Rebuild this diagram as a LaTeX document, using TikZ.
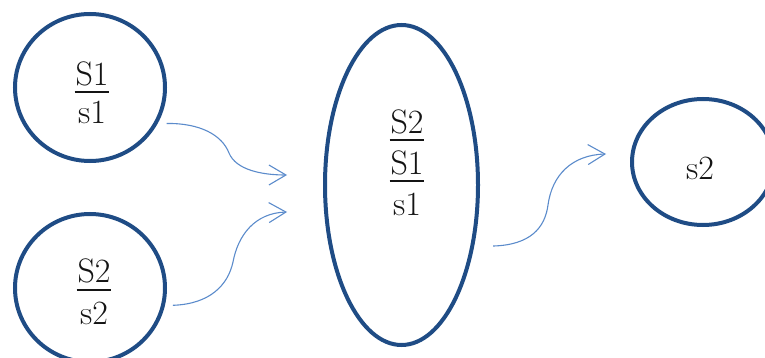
\documentclass[tikz,border=0pt]{standalone}
\usetikzlibrary{shapes.geometric,arrows.meta}
\definecolor{ringblue}{HTML}{1F4C85}
\definecolor{flowblue}{HTML}{5B8BCB}
\definecolor{inktext}{HTML}{141414}
% term with a fraction bar beneath it
\newcommand\topterm[1]{\leavevmode\setbox0\hbox{#1}\rlap{\hspace{-1pt}\rule[-8pt]{\dimexpr\wd0+2pt\relax}{2pt}}\box0}
\tikzset{
  ring/.style={ellipse, draw=ringblue, line width=4pt, inner sep=0pt},
  term/.style={align=center, inner sep=0pt, text=inktext},
  flow/.style={draw=flowblue, line width=1.1pt,
    -{Straight Barb[length=17pt,width=20pt,line width=1.1pt]}},
}
\begin{document}
\begin{tikzpicture}[x=1pt,y=1pt]
\useasboundingbox (0,0) rectangle (765,-358);
% states
\node[ring, minimum width=150pt, minimum height=147pt] (c1) at (90,-87.5) {};
\node[ring, minimum width=150pt, minimum height=148pt] (c2) at (90,-288) {};
\node[ring, minimum width=153pt, minimum height=320pt] (e) at (401.5,-185) {};
\node[ring, minimum width=142pt, minimum height=126pt] (c3) at (703,-162) {};
% labels
\node[term, font={\fontsize{34}{38}\selectfont}] (l1) at (92,-92.5) {\topterm{S1}\\s1};
\node[term, font={\fontsize{34}{42}\selectfont}] (l2) at (94,-292) {\topterm{S2}\\s2};
\node[term, font={\fontsize{34}{41}\selectfont}] (l3) at (407,-162.5) {\topterm{S2}\\\topterm{S1}\\s1};
\node[term, font={\fontsize{34}{41}\selectfont}] (l4) at (700,-168.5) {s2};
% arrow tips
\coordinate (t1) at (287,-175);
\coordinate (t2) at (287,-212);
\coordinate (t3) at (606,-154);
% transitions
\draw[flow] ([xshift=9pt]c1.-28) .. controls (200,-123) and (222,-135) .. (229,-153)
  .. controls (236,-170) and (262,-175) .. (t1);
\draw[flow] ([xshift=8pt]c2.-13) .. controls (210,-304) and (228,-285) .. (233,-262)
  .. controls (238,-235) and (255,-213) .. (t2);
\draw[flow] ([xshift=19pt]e.-40) .. controls (530,-245) and (545,-228) .. (548,-205)
  .. controls (552,-175) and (572,-155) .. (t3);
\end{tikzpicture}
\end{document}
